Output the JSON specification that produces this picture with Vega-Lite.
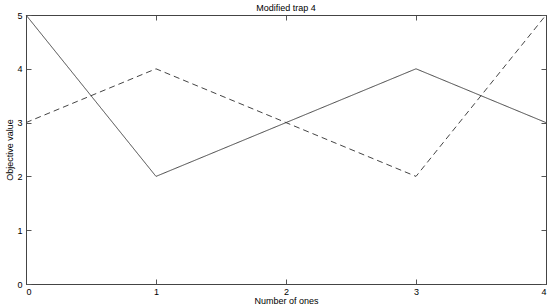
{
  "$schema": "https://vega.github.io/schema/vega-lite/v6.json",
  "width": 520,
  "height": 269,
  "autosize": "none",
  "padding": {"left": 26, "top": 15, "right": 8, "bottom": 21},
  "background": "white",
  "title": {"text": "Modified trap 4", "font": "Liberation Sans", "fontSize": 9, "fontWeight": "normal", "color": "#000", "offset": -2},
  "config": {
    "view": {"stroke": "#444", "strokeWidth": 1},
    "axis": {"grid": false, "domainColor": "#444", "tickColor": "#555", "labelFont": "Liberation Sans", "labelFontSize": 9, "labelColor": "#000", "titleFont": "Liberation Sans", "titleFontSize": 9, "titleFontWeight": "normal", "titleColor": "#000"}
  },
  "resolve": {"axis": {"x": "independent", "y": "independent"}},
  "data": {"values": [
    {"x": 0, "y": 5, "s": "a"}, {"x": 1, "y": 2, "s": "a"}, {"x": 2, "y": 3, "s": "a"}, {"x": 3, "y": 4, "s": "a"}, {"x": 4, "y": 3, "s": "a"},
    {"x": 0, "y": 3, "s": "b"}, {"x": 1, "y": 4, "s": "b"}, {"x": 2, "y": 3, "s": "b"}, {"x": 3, "y": 2, "s": "b"}, {"x": 4, "y": 5, "s": "b"}
  ]},
  "layer": [
    {
      "mark": {"type": "line", "color": "#444", "strokeWidth": 1},
      "encoding": {
        "x": {"field": "x", "type": "quantitative", "scale": {"domain": [0, 4], "nice": false, "zero": false},
              "axis": {"orient": "bottom", "values": [0, 1, 2, 3, 4], "ticks": true, "tickSize": -5, "title": "Number of ones", "labelPadding": 8, "titlePadding": 0}},
        "y": {"field": "y", "type": "quantitative", "scale": {"domain": [0, 5], "nice": false},
              "axis": {"orient": "left", "values": [0, 1, 2, 3, 4, 5], "ticks": true, "tickSize": -5, "title": "Objective value", "labelPadding": 9, "titlePadding": 2}},
        "strokeDash": {"field": "s", "type": "nominal", "scale": {"domain": ["a", "b"], "range": [[1, 0], [6, 4]]}, "legend": null}
      }
    },
    {
      "mark": {"type": "line", "strokeOpacity": 0},
      "encoding": {
        "x": {"field": "x", "type": "quantitative", "axis": {"orient": "top", "values": [0, 1, 2, 3, 4], "ticks": true, "tickSize": -5, "labels": false, "title": null}},
        "y": {"field": "y", "type": "quantitative", "axis": {"orient": "right", "values": [0, 1, 2, 3, 4, 5], "ticks": true, "tickSize": -5, "labels": false, "title": null}},
        "detail": {"field": "s", "type": "nominal"}
      }
    }
  ]
}
